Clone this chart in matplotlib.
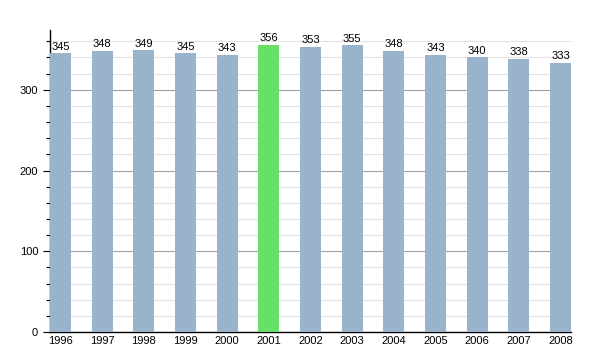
import numpy as np
import matplotlib.pyplot as plt
from matplotlib.ticker import MultipleLocator

plt.rcParams['font.family'] = ['Liberation Sans', 'DejaVu Sans']

years = ['1996', '1997', '1998', '1999', '2000', '2001', '2002',
         '2003', '2004', '2005', '2006', '2007', '2008']
population = [345, 348, 349, 345, 343, 356, 353, 355, 348, 343, 340, 338, 333]
highlight = '2001'

fig = plt.figure(figsize=(6, 3.5), dpi=100)
ax = fig.add_axes([50/600, 1 - 332/350, 521/600, 302/350])

x = np.arange(len(years))
colors = ['#66e066' if y == highlight else '#9ab3cc' for y in years]
ax.bar(x, population, width=0.5, color=colors, zorder=3)

for xi, v in zip(x, population):
    ax.text(xi, v + 2, str(v), ha='center', va='bottom', fontsize=8, zorder=4)

ax.set_xlim(-0.25, len(years) - 0.75)
ax.set_ylim(0, 374)
ax.set_xticks(x)
ax.set_xticklabels(years, fontsize=8)
ax.yaxis.set_major_locator(MultipleLocator(100))
ax.yaxis.set_minor_locator(MultipleLocator(20))
ax.tick_params(axis='y', labelsize=8, length=5, width=0.8)
ax.tick_params(axis='y', which='minor', length=3, width=0.8)
ax.tick_params(axis='x', length=0, pad=3)

ax.grid(axis='y', which='minor', color='#e3e3e3', linewidth=0.8, zorder=0)
ax.grid(axis='y', which='major', color='#a0a0a0', linewidth=0.8, zorder=1)
for s in ['top', 'right']:
    ax.spines[s].set_visible(False)
ax.spines['left'].set_linewidth(1)
ax.spines['bottom'].set_linewidth(1)

fig.savefig('out.png', dpi=100)
